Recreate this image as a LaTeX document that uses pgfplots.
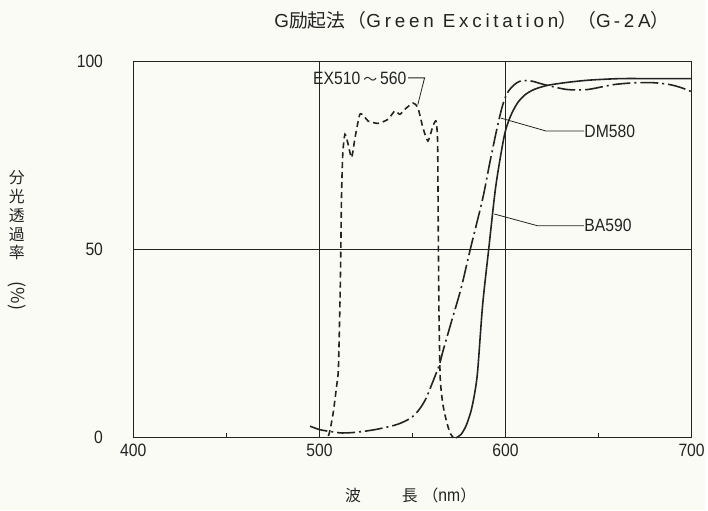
\documentclass[border=0pt]{standalone}
\usepackage{pgfplots}
\pgfplotsset{compat=1.18}
\usepackage{fontspec}
\setmainfont{Liberation Sans}
\newfontfamily\lab[FakeStretch=0.88]{Liberation Sans}
\newfontfamily\cjk{Noto Sans CJK JP}
\newfontfamily\ttl[LetterSpace=20]{Liberation Sans}
\definecolor{ink}{RGB}{35,35,35}
\definecolor{paper}{RGB}{251,251,246}
\begin{document}
\begin{tikzpicture}[x=1bp,y=1bp]
\path[fill=paper] (-134bp,-73bp) rectangle (574bp,440bp);
\begin{axis}[
  name=ax,
  at={(0,0)}, anchor=south west,
  scale only axis, width=561bp, height=378bp,
  xmin=400, xmax=700, ymin=0, ymax=100,
  xtick={400,500,600,700}, ytick={0,50,100},
  minor xtick={450,550,650},
  tick pos=left,
  major tick length=0pt, minor tick length=5bp,
  tick style={ink, line width=0.8bp},
  grid=major,
  major grid style={ink, line width=0.8bp},
  axis line style={ink, line width=1.3bp},
  /pgf/number format/assume math mode=true,
  ticklabel style={font=\lab\fontsize{18}{21}\selectfont, text=ink},
  xticklabel style={yshift=-3bp},
  yticklabel style={xshift=-27bp},
  clip=false,
]
% EX510-560 (dashed)
\addplot[ink, line width=1.6bp, dash pattern=on 6bp off 4bp, smooth, tension=0.35] coordinates {
(504.8,0.5) (505.7,2) (507.5,7) (509.3,14) (510.2,18.5) (511.2,40) (511.9,65) (512.6,76) (513.7,80.7) (515.2,78.5) (517.3,74.5) (519.2,80) (521.7,86) (524,85.5) (526.2,84.2) (531.6,83.6) (536.9,84.7) (540.5,86.9) (543.2,86) (545.8,87.3) (550.3,89) (552.9,87.8) (555.6,82.5) (558.3,78.9) (561,82.9) (562.7,84.2) (563.5,78.9) (563.8,60) (564.2,35) (564.9,16) (566.3,9) (568,5) (570,1.5) (572,0)
};
% DM580 (dash-dot)
\addplot[ink, line width=1.6bp, dash pattern=on 18bp off 4bp on 2bp off 4bp, smooth, tension=0.5] coordinates {
(495,3.1) (500,2.2) (505.7,1.7) (512,1.3) (520,1.5) (530,2.2) (540,3.3) (545,4.2) (550,5.6) (554,7.8) (557.4,10.6) (561,15) (564.5,19.5) (566.3,22.9) (571,31) (576.1,39.7) (581,50) (587.7,63.5) (591.5,73) (595.7,82.9) (598.5,88.5) (601,91.7) (604.5,93.8) (608.2,94.9) (613.5,94.9) (618,94.3) (622.5,93.7) (633.2,92.6) (644,92.6) (658,93.9) (670,94.4) (680,94.4) (688.4,93.9) (695,93) (700,92)
};
% BA590 (solid)
\addplot[ink, line width=1.6bp, smooth, tension=0.45] coordinates {
(573.4,0) (576.1,0.9) (578.8,3.2) (581.4,7) (583.3,11.5) (585,17.6) (587.7,35.3) (591,50.3) (594.8,67) (599.3,80.2) (602.5,85.3) (606.4,89) (610.5,91.2) (615.3,92.6) (622.5,93.7) (633.2,94.5) (645,95.1) (661.6,95.5) (680,95.5) (700,95.5)
};
% annotations
\draw[ink, line width=0.8bp] (axis cs:547.6,95.7) -- (axis cs:556.5,95.7) -- (axis cs:552.9,88.6);
\node[ink, anchor=east, inner sep=0pt, font=\lab\fontsize{18}{21}\selectfont] at (axis cs:546.8,95.7) {EX510\,{\cjk\fontsize{14}{16}\selectfont ～}\,560};
\draw[ink, line width=0.8bp] (axis cs:597.5,85) -- (axis cs:621.6,81.6) -- (axis cs:642.1,81.6);
\node[ink, anchor=west, inner sep=0pt, font=\lab\fontsize{18}{21}\selectfont] at (axis cs:642.3,81.6) {DM580};
\draw[ink, line width=0.8bp] (axis cs:594,59.5) -- (axis cs:617.1,56.4) -- (axis cs:642.1,56.4);
\node[ink, anchor=west, inner sep=0pt, font=\lab\fontsize{18}{21}\selectfont] at (axis cs:642.3,56.4) {BA590};
% title
\node[ink, inner sep=0pt, font=\fontsize{19}{22}\selectfont] at (axis cs:582,111) {\ttl G{\cjk 励起法}\hspace{2bp}{\cjk （}Green Excitation{\cjk ）}{\cjk （}G\,-2A{\cjk ）}};
% y label
\node[ink, inner sep=0pt, font=\cjk\fontsize{16}{19}\selectfont, align=center] at (axis cs:337.4,52.5) {分\\光\\透\\過\\率\\[4bp]\rotatebox{-90}{\fontsize{18}{19}\selectfont(\%)}};
% x label
\node[ink, inner sep=0pt, font=\cjk\fontsize{16}{18}\selectfont] at (axis cs:549,-15.3) {波\hspace{41bp}長\hspace{5bp}（{\lab\fontsize{18}{20}\selectfont nm}）};
\end{axis}
\end{tikzpicture}
\end{document}
